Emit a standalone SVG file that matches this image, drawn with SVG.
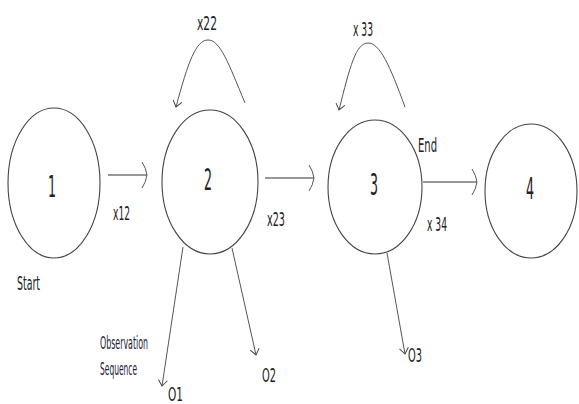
<svg xmlns="http://www.w3.org/2000/svg" width="579" height="404" viewBox="0 0 579 404">
<defs>
<style>
.node{fill:none;stroke:#444;stroke-width:1.1}
.num{font-family:"Liberation Sans Narrow","DejaVu Sans Condensed","Liberation Sans",sans-serif;font-size:30px;fill:#222}
.lbl{font-family:"Liberation Sans Narrow","DejaVu Sans Condensed","Liberation Sans",sans-serif;font-size:19px;fill:#222}
.sm{font-family:"Liberation Sans Narrow","DejaVu Sans Condensed","Liberation Sans",sans-serif;font-size:17px;fill:#223}
.edge{fill:none;stroke:#555;stroke-width:1}
.hedge{fill:none;stroke:#333;stroke-width:1.1}
</style>
<marker id="wide" markerUnits="userSpaceOnUse" markerWidth="8" markerHeight="28" viewBox="0 0 8 28" refX="6" refY="14" orient="auto">
<path d="M1,1 Q5,7 6,14 Q5,21 1,27" fill="none" stroke="#555" stroke-width="1"/>
</marker>
<marker id="chev" markerUnits="userSpaceOnUse" markerWidth="12" markerHeight="12" viewBox="0 0 12 12" refX="10" refY="6" orient="auto">
<path d="M4,1.5 L10,6 L4,10.5" fill="none" stroke="#444" stroke-width="1"/>
</marker>
</defs>
<rect width="579" height="404" fill="#fff"/>
<g id="connectors">
<path class="hedge" d="M108,175 L147,175" marker-end="url(#wide)"/>
<path class="hedge" d="M265,178 L314,178" marker-end="url(#wide)"/>
<path class="hedge" d="M423,182 L477,182" marker-end="url(#wide)"/>
<path class="edge" d="M245,103 C228,62 220,40 208,40 C196,40 188,62 176,107" marker-end="url(#chev)"/>
<path class="edge" d="M405,107 C390,66 380,43 368,43 C356,43 350,66 339,110" marker-end="url(#chev)"/>
<path class="edge" d="M183,247 L162,386" marker-end="url(#chev)"/>
<path class="edge" d="M232,248 L256,355" marker-end="url(#chev)"/>
<path class="edge" d="M387,253 L405,354" marker-end="url(#chev)"/>
<text class="lbl" x="197" y="30" textLength="20" lengthAdjust="spacingAndGlyphs">x22</text>
<text class="lbl" x="353" y="36" textLength="20" lengthAdjust="spacingAndGlyphs">x 33</text>
<text class="lbl" x="113" y="220" textLength="17" lengthAdjust="spacingAndGlyphs">x12</text>
<text class="lbl" x="267" y="226" textLength="18" lengthAdjust="spacingAndGlyphs">x23</text>
<text class="lbl" x="427" y="231" textLength="20" lengthAdjust="spacingAndGlyphs">x 34</text>
</g>
<g id="node1">
<ellipse class="node" cx="54" cy="183" rx="46" ry="75"/>
<text class="num" x="48" y="197" textLength="8" lengthAdjust="spacingAndGlyphs">1</text>
<text class="lbl" x="17" y="290" textLength="23" lengthAdjust="spacingAndGlyphs">Start</text>
</g>
<g id="node2">
<ellipse class="node" cx="210" cy="182" rx="48" ry="72"/>
<text class="num" x="204" y="190" textLength="8" lengthAdjust="spacingAndGlyphs">2</text>
</g>
<g id="node3">
<ellipse class="node" cx="375" cy="187" rx="47" ry="67"/>
<text class="num" x="370" y="195" textLength="8" lengthAdjust="spacingAndGlyphs">3</text>
<text class="lbl" x="418" y="152" textLength="19" lengthAdjust="spacingAndGlyphs">End</text>
</g>
<g id="node4">
<ellipse class="node" cx="531" cy="191" rx="46" ry="67"/>
<text class="num" x="526" y="199" textLength="8" lengthAdjust="spacingAndGlyphs">4</text>
</g>
<g id="observations">
<text class="sm" x="100" y="349" textLength="48" lengthAdjust="spacingAndGlyphs">Observation</text>
<text class="sm" x="100" y="375" textLength="37" lengthAdjust="spacingAndGlyphs">Sequence</text>
<text class="lbl" x="168" y="401" textLength="15" lengthAdjust="spacingAndGlyphs">O1</text>
<text class="lbl" x="262" y="382" textLength="14" lengthAdjust="spacingAndGlyphs">O2</text>
<text class="lbl" x="408" y="362" textLength="14" lengthAdjust="spacingAndGlyphs">O3</text>
</g>
</svg>
